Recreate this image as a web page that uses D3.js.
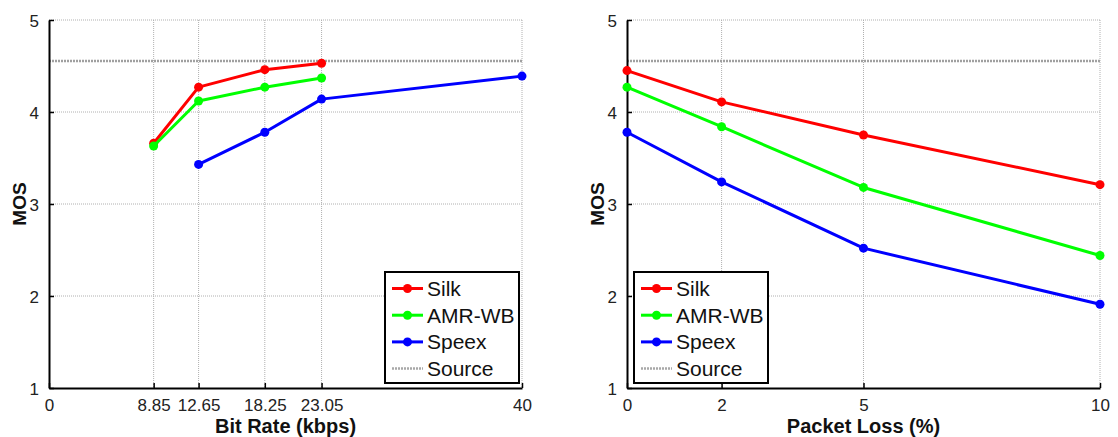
<!DOCTYPE html>
<html>
<head>
<meta charset="utf-8">
<script src="https://cdn.jsdelivr.net/npm/d3@7"></script>
<style>
  html, body { margin: 0; padding: 0; background: #fff; }
  svg { display: block; font-family: "Liberation Sans", Arial, sans-serif; }
</style>
</head>
<body>
<svg id="chart" width="1118" height="437"></svg>
<script>
// ---- data ----
const seriesNames = ["Silk", "AMR-WB", "Speex"];
const seriesColors = ["#ff0000", "#00ff00", "#0000ff"];
const sourceMOS = 4.555;

// Left panel: MOS vs bit rate
const bitRateTicks = [0, 8.85, 12.65, 18.25, 23.05, 40];
const silkRates = [8.85, 12.65, 18.25, 23.05];
const silkByRate = [3.66, 4.27, 4.46, 4.53];
const amrRates = [8.85, 12.65, 18.25, 23.05];
const amrByRate = [3.63, 4.12, 4.27, 4.37];
const speexRates = [12.65, 18.25, 23.05, 40];
const speexByRate = [3.43, 3.78, 4.14, 4.39];

// Right panel: MOS vs packet loss
const lossTicks = [0, 2, 5, 10];
const lossLevels = [0, 2, 5, 10];
const silkByLoss = [4.45, 4.11, 3.75, 3.21];
const amrByLoss = [4.27, 3.84, 3.18, 2.44];
const speexByLoss = [3.78, 3.24, 2.52, 1.91];

const mosTicks = [1, 2, 3, 4, 5];

// ---- drawing ----
const svg = d3.select("#chart");
const plotTop = 20, plotBottom = 388;

function panel(cfg) {
  const g = svg.append("g");
  const x = d3.scaleLinear().domain(cfg.xDomain).range([cfg.left, cfg.right]);
  const y = d3.scaleLinear().domain([1, 5]).range([plotBottom, plotTop]);

  // grid
  g.append("g").selectAll("line").data(cfg.xTicks.filter(d => d !== cfg.xDomain[0])).join("line")
    .attr("x1", d => x(d)).attr("x2", d => x(d)).attr("y1", plotTop).attr("y2", plotBottom)
    .attr("stroke", "#b0b0b0").attr("stroke-width", 1).attr("stroke-dasharray", "1,1");
  g.append("g").selectAll("line").data(mosTicks.filter(d => d !== 1)).join("line")
    .attr("x1", cfg.left).attr("x2", cfg.right).attr("y1", d => y(d)).attr("y2", d => y(d))
    .attr("stroke", "#b0b0b0").attr("stroke-width", 1).attr("stroke-dasharray", "1,1");

  // source line
  g.append("line")
    .attr("x1", cfg.left).attr("x2", cfg.right).attr("y1", y(sourceMOS)).attr("y2", y(sourceMOS))
    .attr("stroke", "#a0a0a0").attr("stroke-width", 2.5).attr("stroke-dasharray", "2,1");

  // axes
  const xAxis = d3.axisBottom(x).tickValues(cfg.xTicks).tickFormat(d => cfg.fmt(d))
    .tickSizeInner(-5).tickSizeOuter(0).tickPadding(11);
  const gx = g.append("g").attr("transform", `translate(0,${plotBottom})`).call(xAxis);
  const yAxis = d3.axisLeft(y).tickValues(mosTicks).tickFormat(d3.format("d"))
    .tickSizeInner(-5).tickSizeOuter(0).tickPadding(10);
  const gy = g.append("g").attr("transform", `translate(${cfg.left},0)`).call(yAxis);
  [gx, gy].forEach(a => {
    a.select(".domain").attr("stroke", "#000").attr("stroke-width", 2);
    a.selectAll(".tick line").attr("stroke", "#000").attr("stroke-width", 1.5);
    a.selectAll(".tick text").attr("fill", "#222").attr("font-size", 17)
      .attr("font-family", "Liberation Sans, Arial, sans-serif");
  });
  gx.selectAll(".tick text").attr("dy", "0.71em");
  gy.selectAll(".tick text").attr("dy", "0.36em");

  // axis labels
  g.append("text").attr("x", (cfg.left + cfg.right) / 2).attr("y", 433)
    .attr("text-anchor", "middle").attr("font-weight", "bold").attr("font-size", 20)
    .attr("fill", "#111").text(cfg.xLabel);
  g.append("text")
    .attr("transform", `translate(${cfg.left - 23},${(plotTop + plotBottom) / 2}) rotate(-90)`)
    .attr("text-anchor", "middle").attr("font-weight", "bold").attr("font-size", 19)
    .attr("fill", "#111").text("MOS");

  // series
  const line = d3.line().x(d => x(d[0])).y(d => y(d[1]));
  cfg.series.forEach((s, i) => {
    const pts = s.xs.map((v, j) => [v, s.ys[j]]);
    g.append("path").datum(pts).attr("d", line)
      .attr("fill", "none").attr("stroke", seriesColors[i]).attr("stroke-width", 3)
      .attr("stroke-linejoin", "round");
    g.append("g").selectAll("circle").data(pts).join("circle")
      .attr("cx", d => x(d[0])).attr("cy", d => y(d[1])).attr("r", 4.5)
      .attr("fill", seriesColors[i]);
  });

  // legend
  const lw = 134, lh = 111;
  const lx = cfg.legendX, ly = 272;
  const lg = g.append("g").attr("transform", `translate(${lx},${ly})`);
  lg.append("rect").attr("width", lw).attr("height", lh)
    .attr("fill", "#fff").attr("stroke", "#000").attr("stroke-width", 2);
  const items = seriesNames.concat(["Source"]);
  items.forEach((name, i) => {
    const cy = 16.5 + i * 26.7;
    const isSrc = i === 3;
    lg.append("line").attr("x1", 7).attr("x2", 38).attr("y1", cy).attr("y2", cy)
      .attr("stroke", isSrc ? "#a8a8a8" : seriesColors[i])
      .attr("stroke-width", isSrc ? 2.5 : 3)
      .attr("stroke-dasharray", isSrc ? "2,1" : null);
    if (!isSrc) {
      lg.append("circle").attr("cx", 22.5).attr("cy", cy).attr("r", 4.5).attr("fill", seriesColors[i]);
    }
    lg.append("text").attr("x", 42).attr("y", cy).attr("dy", "0.36em")
      .attr("font-size", 21).attr("fill", "#111").text(name);
  });
}

panel({
  left: 49, right: 522, xDomain: [0, 40], xTicks: bitRateTicks,
  fmt: d => (d === 0 || d === 40) ? String(d) : d.toFixed(2),
  xLabel: "Bit Rate (kbps)", legendX: 385,
  series: [
    { xs: silkRates, ys: silkByRate },
    { xs: amrRates, ys: amrByRate },
    { xs: speexRates, ys: speexByRate }
  ]
});

panel({
  left: 627, right: 1100, xDomain: [0, 10], xTicks: lossTicks,
  fmt: d => String(d),
  xLabel: "Packet Loss (%)", legendX: 634,
  series: [
    { xs: lossLevels, ys: silkByLoss },
    { xs: lossLevels, ys: amrByLoss },
    { xs: lossLevels, ys: speexByLoss }
  ]
});
</script>
</body>
</html>
